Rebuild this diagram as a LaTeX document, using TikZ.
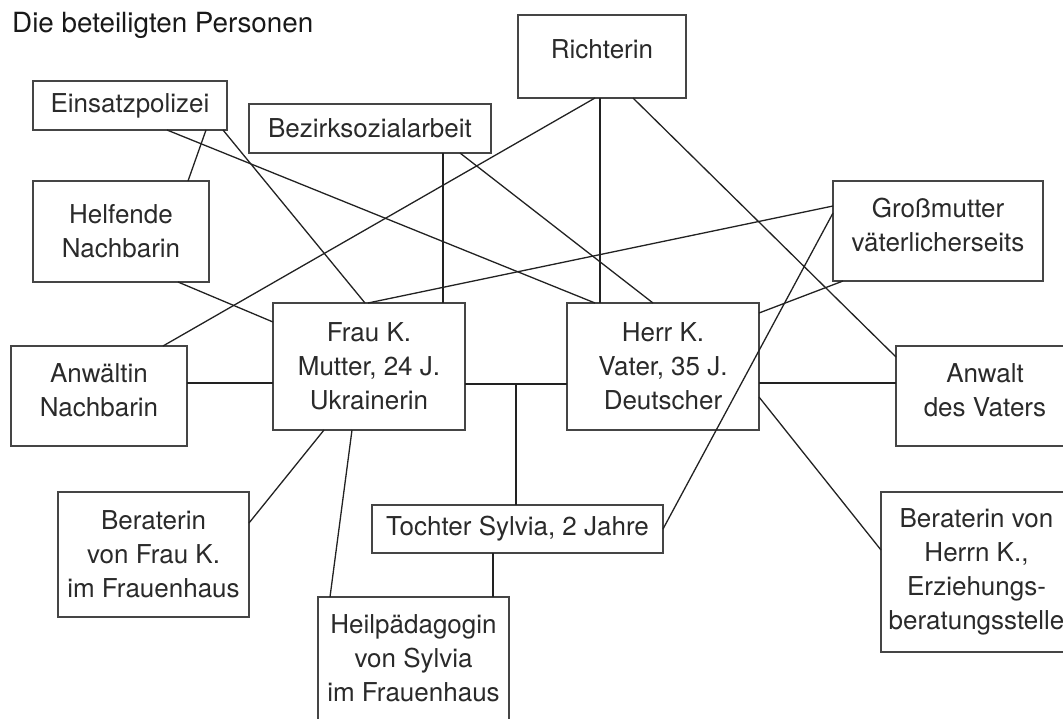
\documentclass[tikz,border=0pt]{standalone}
\usepackage{fontspec}
\setmainfont{TeX Gyre Heros}
\usetikzlibrary{calc}
\definecolor{boxc}{HTML}{454545}
\definecolor{linec}{HTML}{222222}
\definecolor{txt}{HTML}{2A2A2A}
\newcommand{\dn}[1]{\rule[-#1]{0pt}{#1}}
\begin{document}
\begin{tikzpicture}[x=1pt,y=-1pt,
  box/.style={draw=boxc, line width=1.8pt, inner sep=0pt, outer sep=0pt, align=center,
    font=\fontsize{26}{34}\selectfont, text=txt},
  conn/.style={draw=linec, line width=1.3pt}]
\useasboundingbox (0,0) rectangle (1063,718);

\node[anchor=base west, inner sep=0pt, text=black!90, font=\fontsize{27.8}{32}\selectfont] (title) at (12,32) {Die beteiligten Personen};

\node[box, minimum width=168pt, minimum height=83pt] (richter) at (602,56.5) {Richterin\dn{14pt}};
\node[box, minimum width=194pt, minimum height=49pt] (einsatz) at (130,105.5) {Einsatzpolizei};
\node[box, minimum width=242pt, minimum height=49pt] (bezirk) at (370,128.5) {Bezirksozialarbeit};
\node[box, minimum width=176pt, minimum height=101pt] (helfende) at (121,231.5) {Helfende\\Nachbarin};
\node[box, minimum width=210pt, minimum height=100pt] (gross) at (938,231) {Großmutter\\väterlicherseits\dn{12pt}};
\node[box, minimum width=192pt, minimum height=127pt] (frau) at (369,366.5) {Frau K.\\Mutter, 24 J.\\Ukrainerin};
\node[box, minimum width=192pt, minimum height=127pt] (herr) at (663,366.5) {Herr K.\\Vater, 35 J.\\Deutscher};
\node[box, minimum width=176pt, minimum height=100pt] (anwaeltin) at (99,396) {Anwältin\\Nachbarin\dn{11pt}};
\node[box, minimum width=178pt, minimum height=100pt] (anwalt) at (985,396) {Anwalt\\des Vaters\dn{12pt}};
\node[box, minimum width=191pt, minimum height=125pt] (berfrau) at (153.5,554.5) {Beraterin\\von Frau K.\\im Frauenhaus};
\node[box, minimum width=291pt, minimum height=48pt] (tochter) at (517.5,529) {Tochter Sylvia, 2 Jahre};
\node[box, minimum width=191pt, minimum height=123pt] (heil) at (413.5,658.5) {Heilpädagogin\\von Sylvia\\im Frauenhaus};
\node[box, minimum width=191pt, minimum height=160pt] (berherr) at (976.5,572) {Beraterin von\\Herrn K.,\\Erziehungs-\\beratungsstelle};

% connectors
\draw[conn] ($(einsatz.south west)+(173,0)$) -- ($(helfende.north west)+(155,0)$);
\draw[conn] ($(einsatz.south west)+(190,0)$) -- ($(frau.north west)+(92,0)$);
\draw[conn] ($(einsatz.south west)+(134,0)$) -- ($(herr.north west)+(28,0)$);
\draw[conn] ($(bezirk.south west)+(194,0)$) -- ($(frau.north west)+(170,0)$);
\draw[conn] ($(bezirk.south west)+(211,0)$) -- ($(herr.north west)+(86,0)$);
\draw[conn] ($(richter.south west)+(77,0)$) -- ($(anwaeltin.north west)+(152,0)$);
\draw[conn] ($(richter.south west)+(82,0)$) -- ($(herr.north west)+(33,0)$);
\draw[conn] ($(richter.south west)+(115,0)$) -- ($(anwalt.north west)+(0,11)$);
\draw[conn] ($(gross.north west)+(0,25)$) -- ($(frau.north west)+(95,0)$);
\draw[conn] ($(gross.north west)+(0,32)$) -- ($(tochter.north east)+(0,24)$);
\draw[conn] ($(gross.south west)+(10,0)$) -- ($(herr.north east)+(0,10)$);
\draw[conn] ($(helfende.south west)+(145,0)$) -- ($(frau.north west)+(0,19)$);

\coordinate (fl) at ($(frau.north west)+(0,80)$);
\draw[conn] (fl) -- (fl -| anwaeltin.east);
\coordinate (fr) at ($(frau.north east)+(0,81)$);
\draw[conn] (fr) -- (fr -| herr.west);
\coordinate (j) at ($(fr)!0.5!(fr -| herr.west)$);
\draw[conn] (j) -- (j |- tochter.north);
\coordinate (hr) at ($(herr.north east)+(0,80)$);
\draw[conn] (hr) -- (hr -| anwalt.west);

\draw[conn] ($(herr.north east)+(0,94)$) -- ($(berherr.north west)+(0,58)$);
\draw[conn] ($(frau.south west)+(51,0)$) -- ($(berfrau.north east)+(0,31)$);
\draw[conn] ($(frau.south west)+(79,0)$) -- ($(heil.north west)+(12,0)$);
\coordinate (tb) at ($(tochter.south west)+(121,0)$);
\draw[conn] (tb) -- (tb |- heil.north);
\end{tikzpicture}
\end{document}
